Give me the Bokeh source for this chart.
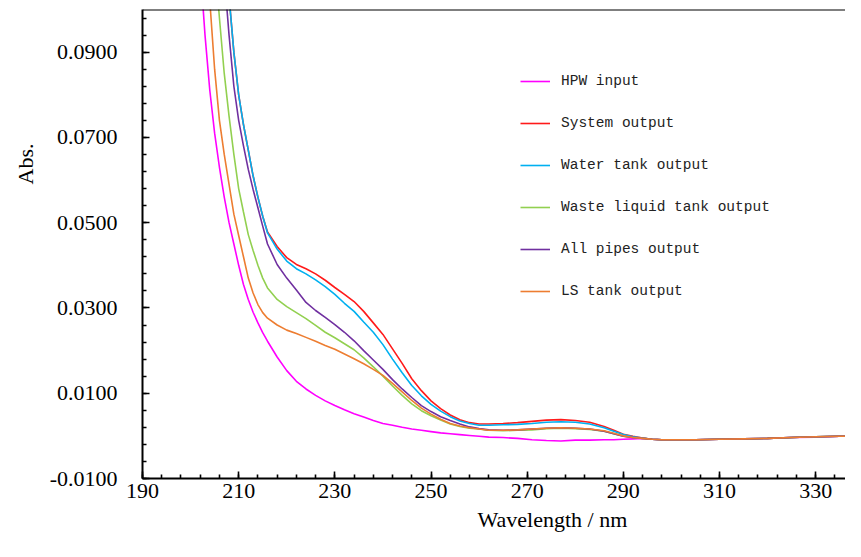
from bokeh.plotting import figure
from bokeh.models import Legend, LegendItem, Title, Span, FixedTicker, PrintfTickFormatter
from bokeh.embed import file_html
from bokeh.resources import INLINE

wavelength = [202, 203, 204, 205, 206, 207, 208, 209, 210, 211, 212, 213, 214, 215, 216,
              218, 220, 222, 224, 226, 228, 230, 232, 234, 236, 238, 240, 242, 244, 246,
              248, 250, 252, 254, 256, 258, 260, 262, 265, 268, 271, 274, 277, 280, 283,
              286, 288, 290, 292, 294, 296, 298, 300, 305, 310, 315, 320, 325, 330, 335, 340]

hpw_input = [0.110, 0.094, 0.081, 0.071, 0.063, 0.056, 0.050, 0.045, 0.040, 0.0355, 0.032, 0.029, 0.0265, 0.0242, 0.0222,
             0.0185, 0.0153, 0.0128, 0.0110, 0.0095, 0.0082, 0.0071, 0.0061, 0.0052, 0.0044, 0.0036, 0.0029, 0.0025, 0.0020, 0.0016,
             0.0013, 0.0010, 0.0007, 0.0005, 0.0003, 0.0001, -0.0001, -0.0003, -0.0004, -0.0006, -0.0009, -0.0011, -0.0012, -0.0010, -0.0010,
             -0.0009, -0.0009, -0.0008, -0.0007, -0.0006, -0.0008, -0.0009, -0.0009, -0.0009, -0.0008, -0.0007, -0.0006, -0.0004, -0.0003, -0.0001, 0.0000]

system_output = [0.220, 0.200, 0.180, 0.160, 0.140, 0.120, 0.103, 0.090, 0.080, 0.073, 0.067, 0.061, 0.056, 0.0515, 0.0478,
                 0.0444, 0.0418, 0.0402, 0.0392, 0.0380, 0.0365, 0.0348, 0.0332, 0.0315, 0.0292, 0.0265, 0.0238, 0.0204, 0.0170, 0.0134,
                 0.0106, 0.0082, 0.0064, 0.0049, 0.0038, 0.0031, 0.0028, 0.0028, 0.0029, 0.0031, 0.0034, 0.0037, 0.0038, 0.0036, 0.0032,
                 0.0022, 0.0013, 0.0004, -0.0001, -0.0005, -0.0008, -0.0009, -0.0009, -0.0009, -0.0008, -0.0007, -0.0006, -0.0004, -0.0002, -0.0001, 0.0000]

water_tank_output = [0.220, 0.200, 0.180, 0.160, 0.140, 0.120, 0.103, 0.090, 0.080, 0.073, 0.067, 0.061, 0.056, 0.0515, 0.0476,
                     0.0438, 0.0410, 0.0392, 0.0380, 0.0366, 0.0350, 0.0332, 0.0311, 0.0292, 0.0267, 0.0243, 0.0214, 0.0180, 0.0148, 0.0118,
                     0.0094, 0.0074, 0.0058, 0.0045, 0.0035, 0.0029, 0.0025, 0.0025, 0.0026, 0.0027, 0.0029, 0.0032, 0.0033, 0.0032, 0.0028,
                     0.0019, 0.0011, 0.0003, -0.0002, -0.0005, -0.0008, -0.0009, -0.0009, -0.0009, -0.0008, -0.0007, -0.0006, -0.0004, -0.0002, -0.0001, 0.0000]

waste_liquid_tank_output = [0.160, 0.145, 0.128, 0.112, 0.098, 0.085, 0.075, 0.066, 0.058, 0.0525, 0.0472, 0.0435, 0.0400, 0.0370, 0.0347,
                            0.0320, 0.0303, 0.0289, 0.0275, 0.0259, 0.0243, 0.0230, 0.0216, 0.0202, 0.0183, 0.0162, 0.0140, 0.0117, 0.0095, 0.0075,
                            0.0059, 0.0047, 0.0037, 0.0028, 0.0022, 0.0018, 0.0016, 0.0013, 0.0012, 0.0013, 0.0014, 0.0017, 0.0018, 0.0017, 0.0015,
                            0.0011, 0.0005, -0.0001, -0.0004, -0.0006, -0.0008, -0.0009, -0.0009, -0.0009, -0.0008, -0.0007, -0.0006, -0.0004, -0.0002, -0.0001, 0.0000]

all_pipes_output = [0.200, 0.180, 0.160, 0.140, 0.124, 0.108, 0.094, 0.082, 0.074, 0.0680, 0.0625, 0.0578, 0.0535, 0.0492, 0.0450,
                    0.0402, 0.0370, 0.0342, 0.0313, 0.0294, 0.0278, 0.0261, 0.0243, 0.0223, 0.0200, 0.0178, 0.0156, 0.0132, 0.0110, 0.0090,
                    0.0071, 0.0057, 0.0045, 0.0036, 0.0028, 0.0021, 0.0017, 0.0014, 0.0013, 0.0014, 0.0016, 0.0018, 0.0019, 0.0018, 0.0016,
                    0.0011, 0.0005, -0.0001, -0.0004, -0.0006, -0.0008, -0.0009, -0.0009, -0.0009, -0.0008, -0.0007, -0.0006, -0.0004, -0.0002, -0.0001, 0.0000]

ls_tank_output = [0.140, 0.120, 0.102, 0.086, 0.074, 0.066, 0.059, 0.052, 0.047, 0.042, 0.037, 0.0335, 0.0308, 0.0289, 0.0276,
                  0.0260, 0.0248, 0.0240, 0.0231, 0.0222, 0.0212, 0.0203, 0.0192, 0.0181, 0.0169, 0.0156, 0.0142, 0.0123, 0.0103, 0.0083,
                  0.0065, 0.0051, 0.0039, 0.0029, 0.0023, 0.0019, 0.0016, 0.0013, 0.0013, 0.0014, 0.0016, 0.0018, 0.0019, 0.0018, 0.0016,
                  0.0012, 0.0006, 0.0000, -0.0004, -0.0006, -0.0008, -0.0009, -0.0009, -0.0009, -0.0008, -0.0007, -0.0006, -0.0004, -0.0002, -0.0001, 0.0000]

series_names = ["HPW input", "System output", "Water tank output",
                "Waste liquid tank output", "All pipes output", "LS tank output"]
series_colors = ["#FF00FF", "#FF1A1A", "#00B0F0", "#92D050", "#7030A0", "#ED7D31"]

x_major_ticks = [190, 210, 230, 250, 270, 290, 310, 330]
x_minor_ticks = list(range(190, 340, 4))
y_major_ticks = [-0.01, 0.01, 0.03, 0.05, 0.07, 0.09]
y_minor_ticks = [(-10 + 4 * i) / 1000 for i in range(28)]

p = figure(width=845, height=541, x_range=(190, 336.2), y_range=(-0.01, 0.1),
           output_backend="svg", toolbar_location=None,
           min_border_left=142, min_border_right=0, min_border_top=9, min_border_bottom=63)
p.outline_line_color = None
p.xgrid.visible = False
p.ygrid.visible = False
p.background_fill_color = "white"
p.border_fill_color = "white"

serif = "Liberation Serif"
for ax in (p.xaxis[0], p.yaxis[0]):
    ax.axis_line_width = 2
    ax.axis_line_color = "black"
    ax.major_tick_in = 7
    ax.major_tick_out = 0
    ax.minor_tick_in = 4
    ax.minor_tick_out = 0
    ax.major_tick_line_width = 1.6
    ax.minor_tick_line_width = 1.6
    ax.major_tick_line_color = "black"
    ax.minor_tick_line_color = "black"
    ax.major_label_text_font = serif
    ax.major_label_text_font_size = "22px"
    ax.major_label_text_color = "black"

p.xaxis.ticker = FixedTicker(ticks=x_major_ticks, minor_ticks=x_minor_ticks)
p.yaxis.ticker = FixedTicker(ticks=y_major_ticks, minor_ticks=y_minor_ticks)
p.yaxis.formatter = PrintfTickFormatter(format="%.4f")
p.xaxis.major_label_standoff = 5
p.yaxis.major_label_standoff = 25

p.add_layout(Span(location=0.1, dimension="width", line_color="black", line_width=2))

data = [hpw_input, system_output, water_tank_output, waste_liquid_tank_output,
        all_pipes_output, ls_tank_output]
renderers = []
for vals, col in zip(data, series_colors):
    renderers.append(p.line(wavelength, vals, line_color=col, line_width=1.6))

items = [LegendItem(label=n, renderers=[r]) for n, r in zip(series_names, renderers)]
legend = Legend(items=items, location=(378, 177), padding=0, margin=0,
                border_line_color=None, background_fill_alpha=0,
                glyph_width=30, glyph_height=20, label_height=20, label_standoff=11, spacing=22,
                label_text_font="Liberation Mono", label_text_font_size="14.5px",
                label_text_color="#222222")
p.add_layout(legend)

p.add_layout(Title(text="Abs.", align="right", offset=134, standoff=18,
                   text_font=serif, text_font_size="22px", text_font_style="normal",
                   text_color="black"), "left")
p.add_layout(Title(text="Wavelength / nm", align="left", offset=335, standoff=8,
                   text_font=serif, text_font_size="22px", text_font_style="normal",
                   text_color="black"), "below")

open("out.html", "w").write(file_html(p, INLINE))
